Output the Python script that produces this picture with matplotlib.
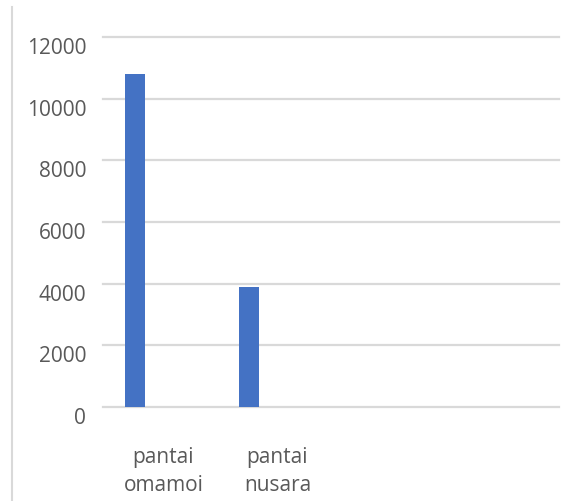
import numpy as np
import matplotlib.pyplot as plt
import matplotlib.transforms as mtransforms
from matplotlib.lines import Line2D

# Data
categories = ["pantai\nomamoi", "pantai\nnusara", "", ""]
values = [10800, 3900, np.nan, np.nan]
yticks = [0, 2000, 4000, 6000, 8000, 10000, 12000]

bar_color = "#4472C4"
text_color = "#595959"
grid_color = "#D9D9D9"

plt.rcParams['font.family'] = ['Open Sans', 'DejaVu Sans']

fig = plt.figure(figsize=(5.74, 5.02), dpi=100)
ax = fig.add_axes([0.1794, 0.1873, 0.7945, 0.737])

x = np.arange(len(categories))
ax.bar(x - 0.22, values, width=0.175, color=bar_color, zorder=3)

ax.set_xlim(-0.5, len(categories) - 0.5)
ax.set_ylim(0, 12000)
ax.set_yticks(yticks)
ax.set_yticklabels([str(v) for v in yticks], fontsize=15, color=text_color)
ax.set_xticks(x + 0.03)
ax.set_xticklabels(categories, fontsize=15, color=text_color, linespacing=1.45)

ax.tick_params(axis="y", length=0, pad=12)
ax.tick_params(axis="x", length=0, pad=28)
ax.yaxis.grid(True, color=grid_color, linewidth=1.6, zorder=0)
for line in ax.get_ygridlines():
    line.set_clip_on(False)
for s in ax.spines.values():
    s.set_visible(False)

# y labels sit a little below their gridlines
shift = mtransforms.ScaledTranslation(0, -8 / 100, fig.dpi_scale_trans)
for lbl in ax.get_yticklabels():
    lbl.set_transform(lbl.get_transform() + shift)

# left border of the chart area
fig.add_artist(Line2D([0.021, 0.021], [0.0, 0.985], color=grid_color, linewidth=1.5))

fig.savefig("out.png", dpi=100)
